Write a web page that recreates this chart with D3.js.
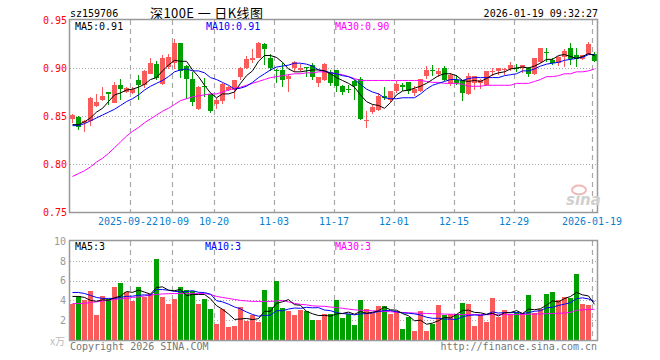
<!DOCTYPE html>
<html>
<head>
<meta charset="utf-8">
<script src="https://cdn.jsdelivr.net/npm/d3@7"></script>
<style>
  body { margin: 0; background: #fff; }
  svg text { font-family: "DejaVu Sans Mono", monospace; font-size: 10px; }
</style>
</head>
<body>
<div id="chart"></div>
<script>
// trading days shown on the chart
var dates = [
  "2025-09-08","2025-09-09","2025-09-10","2025-09-11","2025-09-12","2025-09-15","2025-09-16","2025-09-17","2025-09-18","2025-09-19",
  "2025-09-22","2025-09-23","2025-09-24","2025-09-25","2025-09-26","2025-09-29","2025-09-30","2025-10-09","2025-10-10","2025-10-13",
  "2025-10-14","2025-10-15","2025-10-16","2025-10-17","2025-10-20","2025-10-21","2025-10-22","2025-10-23","2025-10-24","2025-10-27",
  "2025-10-28","2025-10-29","2025-10-30","2025-10-31","2025-11-03","2025-11-04","2025-11-05","2025-11-06","2025-11-07","2025-11-10",
  "2025-11-11","2025-11-12","2025-11-13","2025-11-14","2025-11-17","2025-11-18","2025-11-19","2025-11-20","2025-11-21","2025-11-24",
  "2025-11-25","2025-11-26","2025-11-27","2025-11-28","2025-12-01","2025-12-02","2025-12-03","2025-12-04","2025-12-05","2025-12-08",
  "2025-12-09","2025-12-10","2025-12-11","2025-12-12","2025-12-15","2025-12-16","2025-12-17","2025-12-18","2025-12-19","2025-12-22",
  "2025-12-23","2025-12-24","2025-12-25","2025-12-26","2025-12-29","2025-12-30","2025-12-31","2026-01-05","2026-01-06","2026-01-07",
  "2026-01-08","2026-01-09","2026-01-12","2026-01-13","2026-01-14","2026-01-15","2026-01-16","2026-01-19"];

var opens = [0.847,0.849,0.843,0.845,0.860,0.867,0.875,0.864,0.882,0.875, 0.874,0.888,0.882,0.894,0.904,0.883,0.901,0.905,0.926,0.902,
  0.889,0.857,0.881,0.873,0.863,0.866,0.877,0.877,0.891,0.900, 0.908,0.910,0.925,0.910,0.898,0.898,0.889,0.900,0.898,0.901,
  0.903,0.884,0.888,0.896,0.898,0.881,0.878,0.886,0.889,0.845, 0.854,0.856,0.871,0.867,0.876,0.882,0.885,0.874,0.876,0.892,
  0.898,0.894,0.900,0.883,0.888,0.887,0.873,0.884,0.884,0.882, 0.896,0.897,0.898,0.899,0.900,0.900,0.900,0.894,0.906,0.917,
  0.908,0.905,0.911,0.921,0.914,0.909,0.915,0.915];
var closes = [0.851,0.839,0.845,0.869,0.865,0.871,0.873,0.882,0.878,0.879, 0.878,0.882,0.897,0.905,0.890,0.910,0.911,0.926,0.897,0.889,
  0.865,0.880,0.880,0.855,0.867,0.883,0.880,0.888,0.900,0.909, 0.910,0.926,0.920,0.900,0.897,0.887,0.892,0.906,0.900,0.900,
  0.891,0.891,0.904,0.884,0.881,0.875,0.877,0.881,0.847,0.846, 0.859,0.871,0.869,0.876,0.883,0.880,0.876,0.878,0.889,0.898,
  0.897,0.897,0.887,0.893,0.884,0.874,0.892,0.892,0.888,0.897, 0.897,0.900,0.899,0.903,0.899,0.903,0.894,0.910,0.921,0.916,
  0.905,0.911,0.918,0.909,0.909,0.914,0.925,0.907];
var highs = [0.852,0.850,0.846,0.870,0.873,0.880,0.875,0.885,0.889,0.880, 0.880,0.893,0.898,0.910,0.907,0.914,0.915,0.930,0.926,0.903,
  0.896,0.881,0.890,0.873,0.869,0.884,0.881,0.888,0.901,0.912, 0.920,0.927,0.926,0.915,0.899,0.905,0.894,0.907,0.904,0.901,
  0.905,0.891,0.905,0.898,0.898,0.882,0.882,0.887,0.891,0.855, 0.861,0.874,0.880,0.876,0.886,0.884,0.885,0.881,0.889,0.902,
  0.903,0.900,0.902,0.895,0.893,0.888,0.895,0.892,0.889,0.897, 0.900,0.900,0.900,0.906,0.904,0.903,0.901,0.910,0.921,0.921,
  0.910,0.913,0.920,0.926,0.921,0.914,0.927,0.917];
var lows = [0.843,0.835,0.833,0.840,0.859,0.866,0.861,0.864,0.867,0.874, 0.873,0.867,0.879,0.894,0.887,0.882,0.899,0.899,0.890,0.868,
  0.860,0.856,0.870,0.853,0.857,0.863,0.876,0.868,0.888,0.899, 0.905,0.910,0.903,0.897,0.884,0.880,0.875,0.896,0.896,0.891,
  0.888,0.880,0.886,0.881,0.875,0.872,0.874,0.867,0.846,0.837, 0.852,0.855,0.867,0.865,0.874,0.876,0.873,0.871,0.875,0.889,
  0.892,0.891,0.886,0.881,0.882,0.866,0.872,0.877,0.878,0.881, 0.892,0.893,0.893,0.897,0.896,0.895,0.891,0.893,0.905,0.906,
  0.903,0.902,0.901,0.903,0.901,0.908,0.914,0.906];

var ma5 = [0.841,0.841,0.844,0.848,0.854,0.858,0.865,0.872,0.874,0.877, 0.878,0.880,0.883,0.888,0.890,0.897,0.903,0.908,0.907,0.907,
  0.898,0.891,0.882,0.874,0.869,0.873,0.873,0.875,0.884,0.892, 0.897,0.907,0.913,0.913,0.911,0.906,0.899,0.896,0.896,0.897,
  0.898,0.898,0.897,0.894,0.890,0.887,0.884,0.880,0.872,0.865, 0.862,0.861,0.858,0.864,0.872,0.876,0.877,0.879,0.881,0.884,
  0.888,0.892,0.894,0.894,0.892,0.887,0.886,0.887,0.886,0.889, 0.893,0.895,0.896,0.899,0.900,0.901,0.900,0.902,0.905,0.909,
  0.909,0.913,0.914,0.912,0.910,0.912,0.915,0.913];
var ma10 = [0.840,0.840,0.842,0.845,0.848,0.851,0.854,0.857,0.861,0.865, 0.868,0.872,0.877,0.881,0.884,0.887,0.891,0.896,0.898,0.899,
  0.897,0.897,0.895,0.890,0.888,0.885,0.882,0.878,0.879,0.881, 0.885,0.890,0.894,0.898,0.901,0.902,0.903,0.905,0.905,0.904,
  0.902,0.898,0.897,0.895,0.894,0.892,0.891,0.888,0.883,0.878, 0.875,0.873,0.869,0.868,0.868,0.869,0.869,0.869,0.873,0.878,
  0.882,0.884,0.886,0.888,0.888,0.887,0.889,0.890,0.890,0.890, 0.890,0.890,0.892,0.893,0.894,0.897,0.897,0.899,0.902,0.904,
  0.905,0.906,0.908,0.909,0.910,0.911,0.914,0.914];
var ma30 = [0.787,0.790,0.793,0.797,0.802,0.806,0.811,0.817,0.823,0.829, 0.834,0.838,0.843,0.847,0.851,0.855,0.858,0.862,0.866,0.868,
  0.870,0.871,0.872,0.873,0.873,0.875,0.877,0.879,0.880,0.882, 0.884,0.886,0.888,0.890,0.891,0.892,0.893,0.894,0.894,0.895,
  0.895,0.896,0.896,0.895,0.894,0.893,0.891,0.889,0.887,0.887, 0.887,0.887,0.887,0.887,0.887,0.887,0.887,0.887,0.887,0.886,
  0.885,0.885,0.884,0.884,0.884,0.883,0.881,0.881,0.881,0.882, 0.882,0.882,0.882,0.882,0.884,0.884,0.884,0.886,0.888,0.891,
  0.891,0.892,0.894,0.894,0.896,0.896,0.897,0.899];

// volume, in 万
var volumes = [3.68,4.42,4.00,4.95,2.49,4.42,4.18,5.33,5.74,4.85, 3.94,5.33,4.35,4.69,8.17,4.32,3.60,4.11,5.33,5.03,
  4.95,3.60,4.11,3.10,1.57,3.10,1.27,1.37,3.30,1.88, 2.49,1.78,5.03,3.30,5.97,3.20,2.89,2.49,2.99,2.89,
  1.98,1.98,2.59,2.59,4.01,2.25,2.66,1.47,4.01,3.10, 2.76,3.40,3.40,2.59,2.89,1.07,2.28,0.86,2.89,0.86,
  1.64,3.50,2.49,2.66,2.59,3.71,3.60,1.37,2.49,1.78, 4.21,2.28,2.99,2.59,2.79,2.69,4.52,2.69,3.10,4.62,
  4.82,4.04,4.31,4.21,6.65,3.60,3.50,0.05];
var volMa5 = [4.40,4.40,4.30,4.00,3.91,4.06,4.01,4.27,4.43,4.90, 4.81,5.04,4.84,4.63,5.30,5.37,5.03,4.98,5.11,4.48,
  4.60,4.60,4.60,4.16,3.47,3.10,2.63,2.08,2.12,2.18, 2.06,2.16,2.90,2.90,3.71,3.86,4.08,3.57,3.51,2.89,
  2.65,2.47,2.49,2.41,2.63,2.68,2.82,2.60,2.88,2.70, 2.80,2.95,3.33,3.05,3.01,2.67,2.45,1.94,2.00,1.59,
  1.71,1.95,2.28,2.23,2.58,2.99,3.01,2.79,2.75,2.59, 2.69,2.43,2.75,2.77,2.97,2.67,3.12,3.06,3.16,3.52,
  3.95,3.85,4.18,4.40,4.81,4.56,4.45,3.60];
var volMa10 = [4.80,4.80,4.70,4.50,4.30,4.20,4.20,4.20,4.30,4.41, 4.43,4.52,4.56,4.53,5.10,5.09,5.03,4.91,4.87,4.89,
  4.99,4.82,4.79,4.63,3.97,3.85,3.62,3.34,3.14,2.83, 2.58,2.40,2.49,2.51,2.95,2.96,3.12,3.23,3.20,3.30,
  3.25,3.27,3.03,2.96,2.76,2.67,2.64,2.54,2.64,2.66, 2.74,2.88,2.97,2.97,2.85,2.74,2.70,2.64,2.52,2.30,
  2.19,2.20,2.11,2.11,2.08,2.35,2.48,2.53,2.49,2.58, 2.84,2.72,2.77,2.76,2.78,2.68,2.77,2.90,2.96,3.25,
  3.31,3.49,3.62,3.78,4.17,4.26,4.15,3.89];
var volMa30 = [3.68,3.68,3.70,3.80,3.85,3.95,4.00,4.10,4.15,4.20, 4.30,4.35,4.45,4.55,4.60,4.65,4.68,4.69,4.69,4.69,
  4.69,4.69,4.69,4.60,4.40,4.30,4.20,4.10,4.00,3.95, 3.90,3.90,3.90,3.90,3.95,4.00,3.85,3.70,3.60,3.55,
  3.45,3.42,3.40,3.33,3.28,3.20,3.12,3.05,3.00,2.98, 2.95,2.92,2.88,2.85,2.82,2.78,2.75,2.72,2.70,2.68,
  2.66,2.64,2.62,2.60,2.58,2.56,2.56,2.56,2.56,2.56, 2.56,2.56,2.56,2.56,2.57,2.58,2.60,2.62,2.64,2.66,
  2.68,2.70,2.72,2.80,3.00,3.05,3.08,3.10];

var tickDates = ["2025-09-22","2025-10-09","2025-10-20","2025-11-03","2025-11-17","2025-12-01","2025-12-15","2025-12-29","2026-01-19"];
var tickLabels = ["2025-09-22","10-09","10-20","11-03","11-17","12-01","12-15","12-29","2026-01-19"];
var priceTicks = [0.75, 0.80, 0.85, 0.90, 0.95];
var volTicks = [2, 4, 6, 8, 10];

var W = 660, H = 360;
var left = 70, right = 597;
var priceTop = 20, priceBottom = 212;
var volTop = 241, volBottom = 340;
var UP = "#fa5a5a", DOWN = "#00a000", GRID = "#a8a8a8";

var svg = d3.select("#chart").append("svg")
    .attr("width", W)
    .attr("height", H);

var x = d3.scaleBand().domain(dates).range([left, right]).paddingInner(1 / 6).paddingOuter(0);
var bw = x.bandwidth();
var y = d3.scaleLinear().domain([0.75, 0.95]).range([priceBottom, priceTop]);
var vy = d3.scaleLinear().domain([0, 10]).range([volBottom, volTop]);

var idx = d3.range(dates.length);
var cx = function (i) { return x(dates[i]) + bw / 2; };

// ---- header ----
svg.append("text").attr("x", 70).attr("y", 17).attr("fill", "#000").text("sz159706");
svg.append("text").attr("x", 150).attr("y", 18)
    .style("font-family", "'Noto Sans CJK SC'").style("font-size", "13px")
    .attr("textLength", 113).attr("lengthAdjust", "spacing")
    .attr("fill", "#000").text("深100E 一 日K线图");
svg.append("text").attr("x", 598).attr("y", 17).attr("text-anchor", "end").attr("fill", "#000").text("2026-01-19 09:32:27");

// ---- grid ----
function panelGrid(g, scale, ticks, top, bottom) {
    g.selectAll("line.h").data(ticks).enter().append("line")
        .attr("x1", left).attr("x2", right)
        .attr("y1", function (d) { return Math.round(scale(d)) + 0.5; })
        .attr("y2", function (d) { return Math.round(scale(d)) + 0.5; })
        .attr("stroke", GRID).attr("stroke-dasharray", "1,2");
    g.selectAll("line.v").data(tickDates).enter().append("line")
        .attr("x1", function (d) { return x(d) + 0.5; })
        .attr("x2", function (d) { return x(d) + 0.5; })
        .attr("y1", top).attr("y2", bottom)
        .attr("stroke", GRID).attr("stroke-width", 1.2).attr("stroke-dasharray", "5,4");
}
panelGrid(svg.append("g"), y, [0.80, 0.85, 0.90], priceTop, priceBottom);
panelGrid(svg.append("g"), vy, [2, 4, 6, 8], volTop, volBottom);

// ---- candles ----
var candles = svg.append("g").attr("shape-rendering", "crispEdges");
candles.selectAll("line").data(idx).enter().append("line")
    .attr("x1", function (i) { return cx(i); })
    .attr("x2", function (i) { return cx(i); })
    .attr("y1", function (i) { return y(highs[i]); })
    .attr("y2", function (i) { return y(lows[i]); })
    .attr("stroke", function (i) { return closes[i] >= opens[i] ? UP : DOWN; });
candles.selectAll("rect").data(idx).enter().append("rect")
    .attr("x", function (i) { return x(dates[i]); })
    .attr("width", bw)
    .attr("y", function (i) { return y(Math.max(opens[i], closes[i])); })
    .attr("height", function (i) { return Math.max(1, Math.abs(y(opens[i]) - y(closes[i]))); })
    .attr("fill", function (i) { return closes[i] >= opens[i] ? UP : DOWN; });

// ---- moving averages ----
var priceLine = d3.line().x(function (d, i) { return cx(i); }).y(function (d) { return y(d); });
var volLine = d3.line().x(function (d, i) { return cx(i); }).y(function (d) { return vy(d); });
[[ma30, "#ff00ff"], [ma10, "#0000ff"], [ma5, "#000000"]].forEach(function (s) {
    svg.append("path").datum(s[0]).attr("d", priceLine)
        .attr("fill", "none").attr("stroke", s[1]).attr("stroke-width", 1);
});

// ---- volume bars ----
svg.append("g").attr("shape-rendering", "crispEdges")
    .selectAll("rect").data(idx).enter().append("rect")
    .attr("x", function (i) { return x(dates[i]); })
    .attr("width", bw)
    .attr("y", function (i) { return vy(volumes[i]); })
    .attr("height", function (i) { return volBottom - vy(volumes[i]); })
    .attr("fill", function (i) { return closes[i] >= opens[i] ? UP : DOWN; });

[[volMa30, "#ff00ff"], [volMa10, "#0000ff"], [volMa5, "#000000"]].forEach(function (s) {
    svg.append("path").datum(s[0]).attr("d", volLine)
        .attr("fill", "none").attr("stroke", s[1]).attr("stroke-width", 1);
});

// ---- frames ----
[[priceTop, priceBottom], [volTop, volBottom]].forEach(function (p) {
    svg.append("rect")
        .attr("x", left - 0.5).attr("y", p[0] - 0.5)
        .attr("width", right - left + 1).attr("height", p[1] - p[0] + 1)
        .attr("fill", "none").attr("stroke", "#999").attr("stroke-width", 1.5);
});

// ---- axes ----
var yAxis = d3.axisLeft(y).tickValues(priceTicks).tickFormat(d3.format(".2f")).tickSize(0).tickPadding(3);
var gy = svg.append("g").attr("transform", "translate(" + left + ",0)").call(yAxis);
gy.select(".domain").remove();
gy.selectAll("text").attr("fill", "#f00").style("font-size", "10px").style("font-family", "'DejaVu Sans Mono'");

var vAxis = d3.axisLeft(vy).tickValues(volTicks).tickSize(0).tickPadding(4);
var gv = svg.append("g").attr("transform", "translate(" + left + ",0)").call(vAxis);
gv.select(".domain").remove();
gv.selectAll("text").attr("fill", "#999").style("font-size", "10px").style("font-family", "'DejaVu Sans Mono'");

var xAxis = d3.axisBottom(x).tickValues(tickDates)
    .tickFormat(function (d) { return tickLabels[tickDates.indexOf(d)]; })
    .tickSize(0).tickPadding(6);
var gx = svg.append("g").attr("transform", "translate(" + (-bw / 2) + "," + priceBottom + ")").call(xAxis);
gx.select(".domain").remove();
gx.selectAll("text").attr("fill", "#0a7fd0").style("font-size", "10px").style("font-family", "'DejaVu Sans Mono'")
    .attr("dx", function (d, i) { return i === 0 ? -2 : (i === 1 ? 2 : 0); });

// ---- legends ----
svg.append("text").attr("x", 75).attr("y", 30).attr("fill", "#000").text("MA5:0.91");
svg.append("text").attr("x", 206).attr("y", 30).attr("fill", "#0000ff").text("MA10:0.91");
svg.append("text").attr("x", 335).attr("y", 30).attr("fill", "#ff00ff").text("MA30:0.90");
svg.append("text").attr("x", 75).attr("y", 250).attr("fill", "#000").text("MA5:3");
svg.append("text").attr("x", 205).attr("y", 250).attr("fill", "#0000ff").text("MA10:3");
svg.append("text").attr("x", 335).attr("y", 250).attr("fill", "#ff00ff").text("MA30:3");

// ---- footer & watermark ----
svg.append("text").attr("x", 50).attr("y", 345).attr("fill", "#bbb").style("font-family", "'Noto Sans CJK SC'").text("x万");
svg.append("text").attr("x", 70).attr("y", 350).attr("fill", "#777").text("Copyright 2026 SINA.COM");
svg.append("text").attr("x", 597).attr("y", 350).attr("text-anchor", "end").attr("fill", "#777").text("http://finance.sina.com.cn");
svg.append("ellipse").attr("cx", 579).attr("cy", 190).attr("rx", 7).attr("ry", 4.5)
    .attr("fill", "none").attr("stroke", "#f3b8b8").attr("stroke-width", 2);
svg.append("text").attr("x", 566).attr("y", 205).attr("fill", "#d0d0d0")
    .style("font-family", "'DejaVu Sans'").style("font-size", "15px")
    .style("font-style", "italic").style("font-weight", "bold").text("sina");
</script>
</body>
</html>
